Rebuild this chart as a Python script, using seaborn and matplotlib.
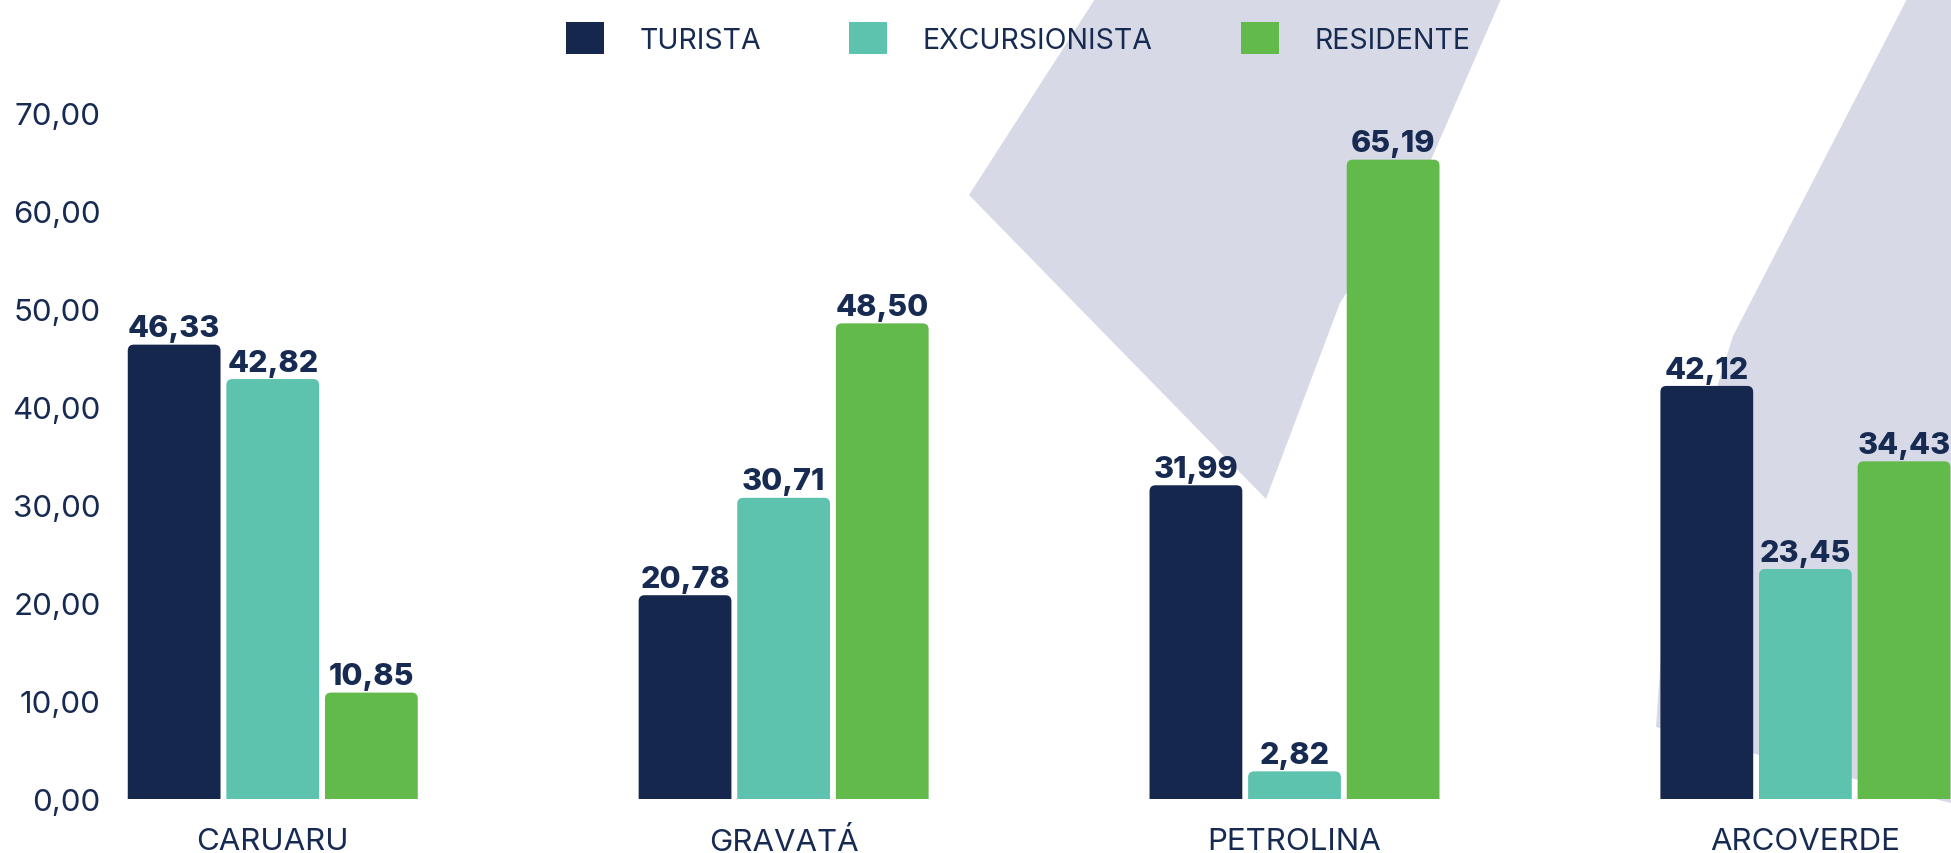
import matplotlib
matplotlib.use("Agg")
import matplotlib.pyplot as plt
from matplotlib.patches import FancyBboxPatch, Polygon, Patch
from matplotlib.ticker import FuncFormatter
import seaborn as sns
import pandas as pd

# ---- data ----
categories = ["CARUARU", "GRAVATÁ", "PETROLINA", "ARCOVERDE"]
series = ["TURISTA", "EXCURSIONISTA", "RESIDENTE"]
turista = [46.33, 20.78, 31.99, 42.12]
excursionista = [42.82, 30.71, 2.82, 23.45]
residente = [10.85, 48.50, 65.19, 34.43]
y_ticks = [0, 10, 20, 30, 40, 50, 60, 70]

colors = ["#15274d", "#5dc3ae", "#62ba4b"]
text_color = "#172b52"
lavender = "#d8d9e6"

df = pd.DataFrame({
    "cidade": categories * 3,
    "tipo": [s for s in series for _ in categories],
    "valor": turista + excursionista + residente,
})

sns.set_theme(style="white")
plt.rcParams["font.family"] = ["Inter", "DejaVu Sans"]

W, H = 1951, 854
fig = plt.figure(figsize=(W / 100, H / 100), dpi=100)
fig.patch.set_facecolor("white")

# background watermark shapes (figure pixel coords -> fraction)
def fpoly(pts, **kw):
    return Polygon([(x / W, 1 - y / H) for x, y in pts], closed=True,
                   transform=fig.transFigure, **kw)

shapeA = [(1095, 0), (1501, 0), (1430, 163), (1340, 304), (1266, 500), (969, 196)]
shapeB = [(1907, 0), (1951, 0), (1951, 804), (1778, 761), (1656, 728), (1669, 543), (1733, 337)]
for s in (shapeA, shapeB):
    fig.patches.append(fpoly(s, facecolor=lavender, edgecolor="none", zorder=-5))

ax = fig.add_axes([120 / W, 54 / H, 1 - 120 / W, (800 - 113.5) / H])
ax.set_facecolor("none")

sns.barplot(data=df, x="cidade", y="valor", hue="tipo", order=categories,
            hue_order=series, palette=colors, width=0.579, gap=0.059,
            saturation=1, ax=ax, legend=False)

ax.set_xlim(-0.299, 3.285)
ax.set_ylim(0, 70)

# rounded-top bars derived from the seaborn patches
fig.canvas.draw()
bb = ax.get_window_extent()
px_x = bb.width / (ax.get_xlim()[1] - ax.get_xlim()[0])
px_y = bb.height / (ax.get_ylim()[1] - ax.get_ylim()[0])
r_px = 6
r = r_px / px_x
aspect = px_x / px_y

bars = list(ax.patches)
for p in bars:
    x, w, h = p.get_x(), p.get_width(), p.get_height()
    fc = p.get_facecolor()
    p.set_visible(False)
    rb = FancyBboxPatch((x, -2), w, h + 2,
                        boxstyle=f"round,pad=0,rounding_size={r}",
                        mutation_aspect=aspect, facecolor=fc, edgecolor="none",
                        clip_on=True, zorder=2)
    ax.add_patch(rb)
    ax.annotate(f"{h:.2f}".replace(".", ","), (x + w / 2, h), xytext=(0, 6),
                textcoords="offset points", ha="center", va="baseline",
                fontsize=22, fontweight="heavy", color=text_color,
                annotation_clip=False, zorder=3)

sns.despine(ax=ax, left=True, bottom=True)
ax.set_xlabel("")
ax.set_ylabel("")
ax.set_yticks(y_ticks)
ax.yaxis.set_major_formatter(FuncFormatter(lambda v, _: f"{v:.2f}".replace(".", ",")))
ax.tick_params(axis="y", length=0, pad=14, labelsize=22.5, labelcolor=text_color)
ax.tick_params(axis="x", length=0, pad=20, labelsize=22.5, labelcolor=text_color)
ax.grid(False)

# legend
handles = [Patch(facecolor=c, edgecolor="none") for c in colors]
leg = fig.legend(handles, series, loc="center", bbox_to_anchor=(1018 / W, 1 - 39 / H),
                 ncol=3, frameon=False, fontsize=20.5, handlelength=1.33,
                 handleheight=1.33, handletextpad=1.25, columnspacing=3.1,
                 labelcolor=text_color)

fig.savefig("out.png", dpi=100, facecolor="white")
